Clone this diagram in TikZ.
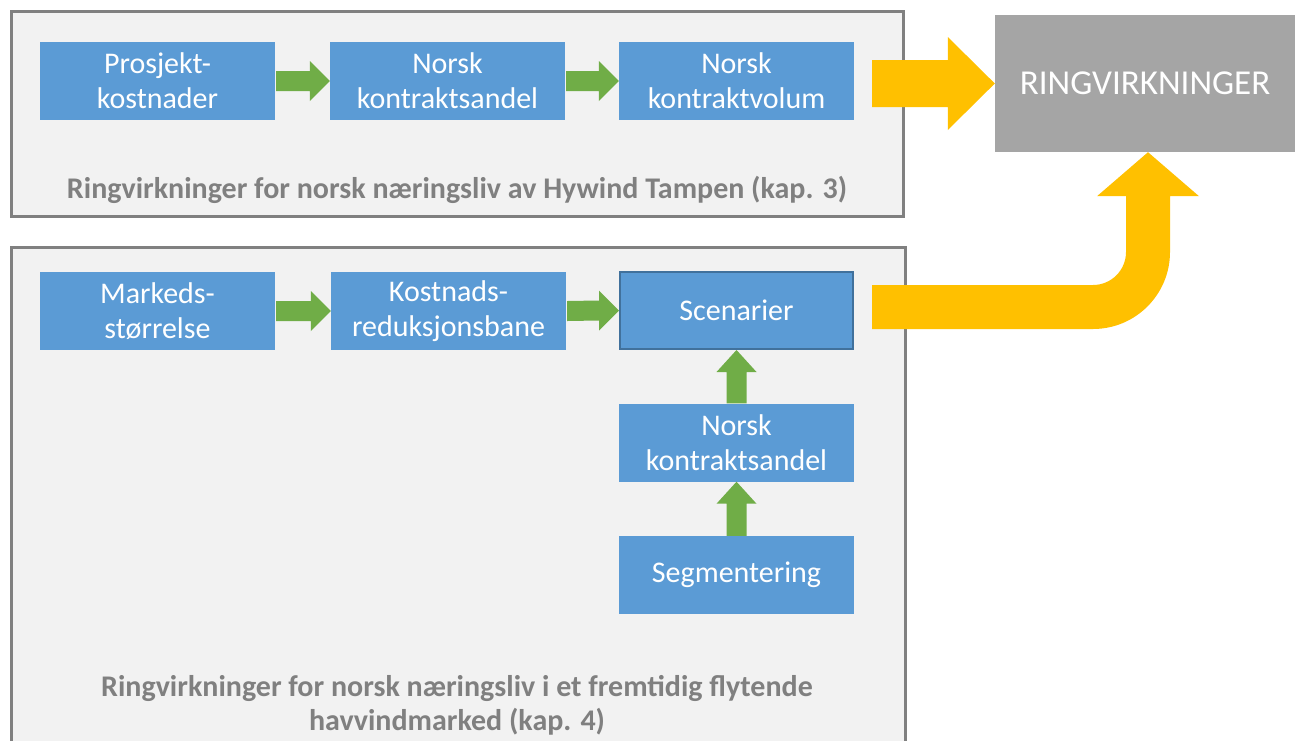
\documentclass[tikz,border=0pt]{standalone}
\usepackage{fontspec}
\setmainfont{Carlito}
\usetikzlibrary{calc}
\definecolor{boxblue}{HTML}{5B9BD5}
\definecolor{boxedge}{HTML}{41719C}
\definecolor{arrgreen}{HTML}{70AD47}
\definecolor{arryellow}{HTML}{FFC000}
\definecolor{ringgray}{HTML}{A5A5A5}
\definecolor{panelfill}{HTML}{F2F2F2}
\definecolor{paneledge}{HTML}{808080}
\newcommand\garrowH[2]{\fill[arrgreen] ($(#1.east)+(1,-10)$) -- ($(#2.west)+(-20,-10)$) -- ($(#2.west)+(-20,-20)$) -- (#2.west) -- ($(#2.west)+(-20,20)$) -- ($(#2.west)+(-20,10)$) -- ($(#1.east)+(1,10)$) -- cycle;}
\newcommand\garrowV[2]{\fill[arrgreen] ($(#1.north)+(-10,0)$) -- ($(#2.south)+(-10,22)$) -- ($(#2.south)+(-20,22)$) -- (#2.south) -- ($(#2.south)+(20,22)$) -- ($(#2.south)+(10,22)$) -- ($(#1.north)+(10,0)$) -- cycle;}
\begin{document}
\begin{tikzpicture}[x=1pt,y=-1pt,
  panel/.style={draw=paneledge, line width=3pt, fill=panelfill, inner sep=0pt},
  stepbox/.style={fill=boxblue, text=white, minimum width=235pt, minimum height=78pt, inner sep=0pt, align=center, font=\fontsize{30}{35}\selectfont},
  caption/.style={text=paneledge, align=center, font=\fontsize{30}{34}\selectfont\bfseries},
  ringbox/.style={fill=ringgray, text=white, minimum width=300pt, minimum height=137pt, inner sep=0pt, font=\fontsize{35}{40}\selectfont}]
\clip (0,0) rectangle (1300,740);
\fill[white] (0,0) rectangle (1300,740);
% panels
\node[panel, minimum width=892pt, minimum height=204.5pt] (p1) at (457,113.75) {};
\node[panel, minimum width=894pt, minimum height=540pt] (p2) at (458,517) {};
% top row
\node[stepbox] (pk) at (157.5,81) {Prosjekt-\\kostnader};
\node[stepbox] (nka) at (447.5,81) {Norsk\\kontraktsandel};
\node[stepbox] (nkv) at (736.5,81) {Norsk\\kontraktvolum};
\garrowH{pk}{nka}
\garrowH{nka}{nkv}
\node[caption] (c1) at (457,190) {Ringvirkninger for norsk næringsliv av Hywind Tampen (kap. 3)};
% bottom panel
\node[stepbox] (ms) at (157.5,311) {Markeds-\\størrelse};
\node[stepbox] (kr) at (448.5,311) {Kostnads-\\reduksjonsbane};
\node[stepbox, draw=boxedge, line width=2pt, minimum width=233pt, minimum height=77pt] (sc) at (736.5,310.5) {Scenarier};
\node[stepbox] (nka2) at (736.5,442.5) {Norsk\\kontraktsandel};
\node[stepbox] (seg) at (736.5,575) {Segmentering};
\garrowH{ms}{kr}
\garrowH{kr}{sc}
\garrowV{nka2}{sc}
\garrowV{seg}{nka2}
\node[caption] (c2) at (457,705) {Ringvirkninger for norsk næringsliv i et fremtidig flytende\\havvindmarked (kap. 4)};
% result
\node[ringbox] (ring) at (1145,83.5) {RINGVIRKNINGER};
\coordinate (y1s) at (872,83.5);
\coordinate (y2s) at (872,307);
\fill[arryellow] ($(y1s)+(0,-23.5)$) -- ($(ring.west)+(-47,-23.5)$) -- ($(ring.west)+(-47,-46.5)$) -- (ring.west) -- ($(ring.west)+(-47,46.5)$) -- ($(ring.west)+(-47,23.5)$) -- ($(y1s)+(0,23.5)$) -- cycle;
\fill[arryellow] ($(y2s)+(0,-22)$) -- (1093,285) arc[start angle=90, end angle=0, radius=33] -- ($(ring.south)+(-19,44)$) -- ($(ring.south)+(-48,44)$) -- ($(ring.south)+(3,0)$) -- ($(ring.south)+(54,44)$) -- ($(ring.south)+(25,44)$) -- (1170,252) arc[start angle=0, end angle=90, radius=77] -- ($(y2s)+(0,22)$) -- cycle;
\end{tikzpicture}
\end{document}
